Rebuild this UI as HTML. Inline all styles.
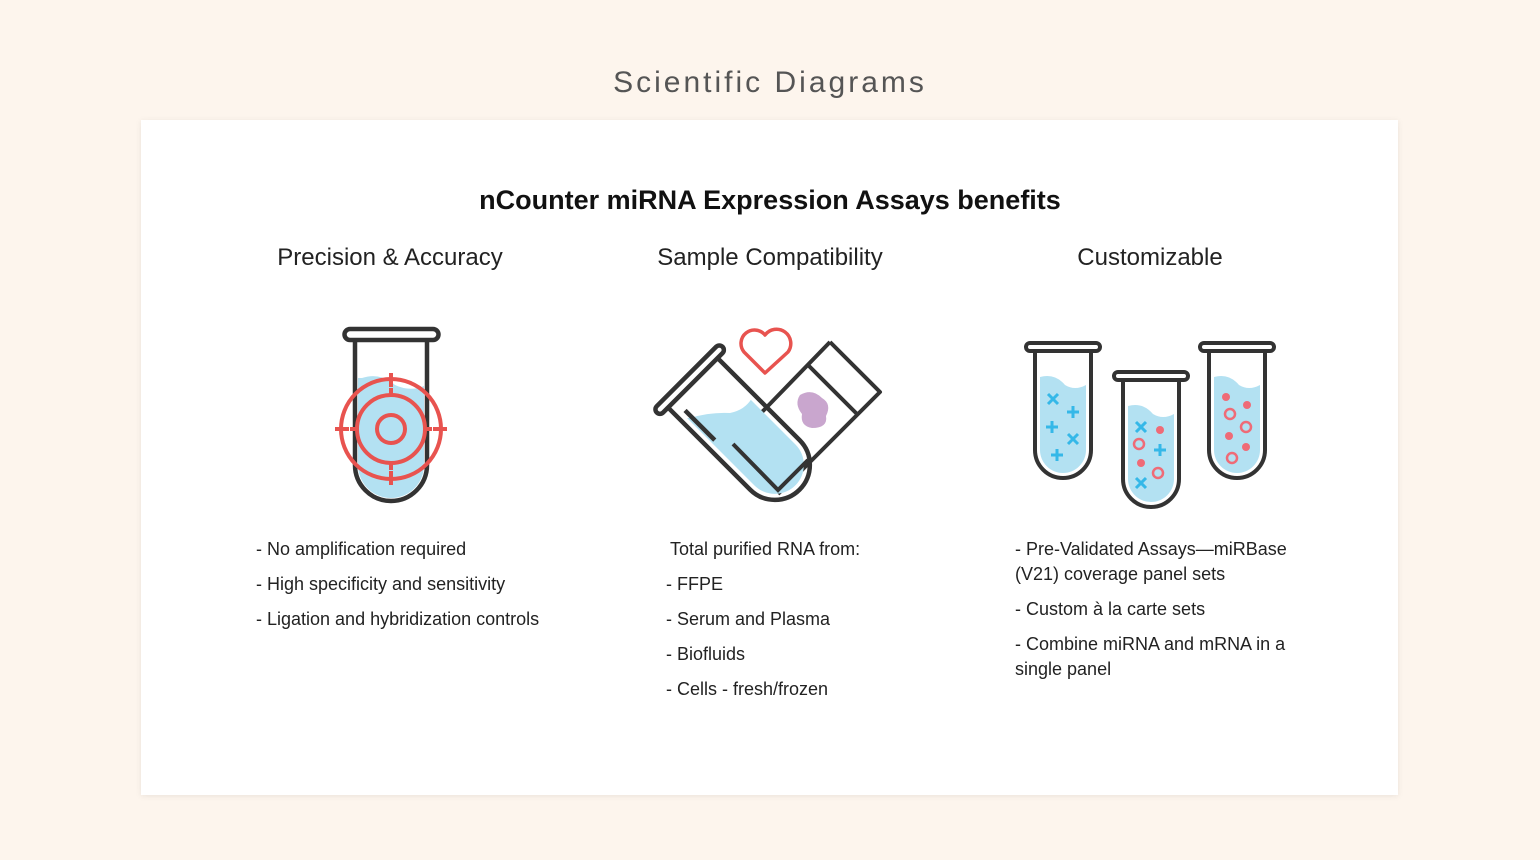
<!DOCTYPE html>
<html><head><meta charset="utf-8"><style>
body{margin:0;width:1540px;height:860px;background:#fdf5ed;font-family:"Liberation Sans",sans-serif;position:relative;overflow:hidden}
.t{position:absolute;white-space:nowrap;color:#222}
#card{position:absolute;left:141px;top:120px;width:1257px;height:675px;background:#fff;box-shadow:0 1px 6px rgba(0,0,0,.08)}
.li{font-size:18px;color:#222;position:absolute;white-space:nowrap;line-height:25px}
</style></head><body>
<div class="t" style="left:0;width:1540px;text-align:center;top:66px;font-size:30px;letter-spacing:3px;color:#555">Scientific Diagrams</div>
<div id="card"></div>
<div class="t" style="left:0;width:1540px;text-align:center;top:185px;font-size:27px;font-weight:bold;color:#111">nCounter miRNA Expression Assays benefits</div>
<div class="t" style="left:240px;width:300px;text-align:center;top:244px;font-size:24px">Precision &amp; Accuracy</div>
<div class="t" style="left:620px;width:300px;text-align:center;top:244px;font-size:24px">Sample Compatibility</div>
<div class="t" style="left:1000px;width:300px;text-align:center;top:244px;font-size:24px">Customizable</div>

<svg width="1540" height="860" style="position:absolute;left:0;top:0">
<defs>
<clipPath id="c2"><path transform="translate(690,380) rotate(-45)" d="M-29 8 V120 A29 29 0 0 0 29 120 V8 Z"/></clipPath>
</defs>
<g>
<path d="M362 378 Q380 372 395 385 Q410 392 424 386 V465 A33 33 0 0 1 358 465 V378Z" fill="#b3e1f2"/>
<path d="M355 340 V465 A36 36 0 0 0 427 465 V340 M350 340 H433 A4 4 0 0 0 433 329 H350 A4 4 0 0 0 350 340Z" fill="none" stroke="#333" stroke-width="4.5" stroke-linejoin="round"/>
<g fill="none" stroke="#e8534f" stroke-width="4">
<circle cx="391" cy="429" r="50"/><circle cx="391" cy="429" r="34"/><circle cx="391" cy="429" r="14"/>
<path d="M391 373 V387 M391 471 V485 M335 429 H349 M433 429 H447 M391 395 V388 M391 463 V470 M357 429 H350 M425 429 H432"/>
</g></g>
<g>
<path d="M765 373 L744 352 A12 12 0 0 1 765 335 A12 12 0 0 1 788 352 Z" fill="none" stroke="#e8534f" stroke-width="3.5" stroke-linejoin="round"/>
<g fill="none" stroke="#333" stroke-width="4" stroke-linejoin="round">
<path d="M830 342 L880 392 L778 494 M731 444 L830 342 M808 365 L858 415 M733 444 L778 490"/>
</g>
<path d="M800 395 Q812 388 822 398 Q832 404 826 416 Q828 428 812 428 Q800 426 802 414 Q794 404 800 395Z" fill="#c9a6ce"/>
<path d="M690 418 Q710 412 730 413 Q745 410 752 398 L900 398 L900 520 L640 520 L640 418Z" fill="#b3e1f2" clip-path="url(#c2)"/>
<g transform="translate(690,380) rotate(-45)" fill="none" stroke="#333" stroke-width="4.5" stroke-linejoin="round">
<path d="M-35 4 V120 A35 35 0 0 0 35 120 V4"/>
<path d="M-42 4 H42 A4 4 0 0 0 42 -5 H-42 A4 4 0 0 0 -42 4Z"/>
<path d="M-25 18 V60"/>
</g>
<path d="M733 444 L778 490 L808 460" fill="none" stroke="#333" stroke-width="4"/>
</g>
<g id="t3"></g>
</svg>

<div>
<div class="li" style="left:256px;top:537px">- No amplification required</div>
<div class="li" style="left:256px;top:572px">- High specificity and sensitivity</div>
<div class="li" style="left:256px;top:607px">- Ligation and hybridization controls</div>
</div>
<div>
<div class="li" style="left:670px;top:537px">Total purified RNA from:</div>
<div class="li" style="left:666px;top:572px">- FFPE</div>
<div class="li" style="left:666px;top:607px">- Serum and Plasma</div>
<div class="li" style="left:666px;top:642px">- Biofluids</div>
<div class="li" style="left:666px;top:677px">- Cells - fresh/frozen</div>
</div>
<div>
<div class="li" style="left:1015px;top:537px">- Pre-Validated Assays—miRBase<br>(V21) coverage panel sets</div>
<div class="li" style="left:1015px;top:597px">- Custom à la carte sets</div>
<div class="li" style="left:1015px;top:632px">- Combine miRNA and mRNA in a<br>single panel</div>
</div>
<script>
const g=document.getElementById('t3');
const tubes=[[1063,345],[1151,374],[1237,345]];
const marks=[[['x',1053,399],['+',1073,412],['+',1052,427],['x',1073,439],['+',1057,455]],
[['x',1141,427],['d',1160,430],['o',1139,444],['+',1160,450],['d',1141,463],['o',1158,473],['x',1141,483]],
[['d',1226,397],['d',1247,405],['o',1230,414],['o',1246,427],['d',1229,436],['d',1246,447],['o',1232,458]]];
let h='';
tubes.forEach(([cx,ty],i)=>{
 const b=ty+105;
 h+=`<path d="M${cx-23} ${ty+32} Q${cx-8} ${ty+28} ${cx+2} ${ty+40} Q${cx+12} ${ty+46} ${cx+23} ${ty+40} V${b} A23 23 0 0 1 ${cx-23} ${b} Z" fill="#b3e1f2"/>`;
 h+=`<path d="M${cx-28} ${ty+6} V${b} A28 28 0 0 0 ${cx+28} ${b} V${ty+6} M${cx-33} ${ty+6} H${cx+33} A3 3 0 0 0 ${cx+33} ${ty-2} H${cx-33} A3 3 0 0 0 ${cx-33} ${ty+6}Z M${cx-13} ${ty+6}H${cx+13}" fill="none" stroke="#333" stroke-width="4" stroke-linejoin="round"/>`;
 marks[i].forEach(([t,x,y])=>{
  if(t==='x')h+=`<path d="M${x-5} ${y-5}L${x+5} ${y+5}M${x+5} ${y-5}L${x-5} ${y+5}" stroke="#35b8e8" stroke-width="3"/>`;
  if(t==='+')h+=`<path d="M${x-6} ${y}H${x+6}M${x} ${y-6}V${y+6}" stroke="#35b8e8" stroke-width="3"/>`;
  if(t==='d')h+=`<circle cx="${x}" cy="${y}" r="4" fill="#ef6b77"/>`;
  if(t==='o')h+=`<circle cx="${x}" cy="${y}" r="5" fill="none" stroke="#ef6b77" stroke-width="2.5"/>`;
 });
});
g.innerHTML=h;
</script>
</body></html>
